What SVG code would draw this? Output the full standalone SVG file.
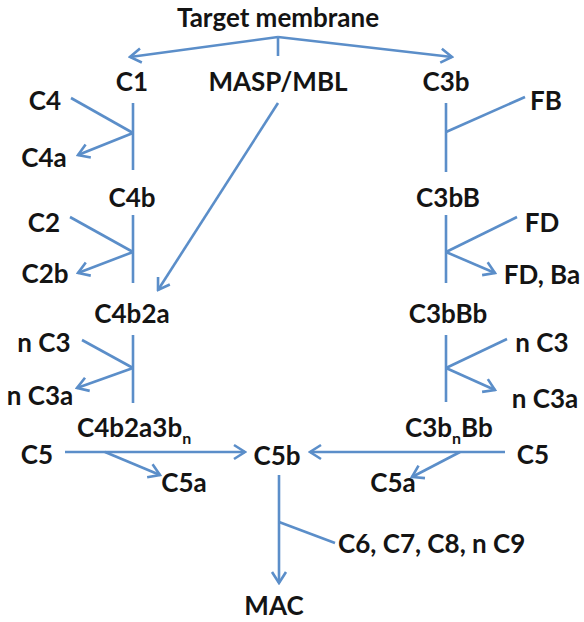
<svg xmlns="http://www.w3.org/2000/svg" width="584" height="622" viewBox="0 0 584 622">
  <style>
    .lbl { font-family: Lato, "Open Sans", "Liberation Sans", sans-serif; font-weight: bold; font-size: 26px; fill: #141414; }
    .mid { text-anchor: middle; }
    .sub { font-size: 16px; }
    .wire { fill: none; stroke: #5b8ec9; stroke-width: 2.6; stroke-linecap: butt; }
    .arr { marker-end: url(#head); }
  </style>
  <defs>
    <marker id="head" markerUnits="userSpaceOnUse" viewBox="-13 -9 15 18" markerWidth="15" markerHeight="18" refX="0" refY="0" orient="auto">
      <path d="M-11,-7 L0,0 L-11,7" fill="none" stroke="#5b8ec9" stroke-width="2.6" stroke-linejoin="miter"/>
    </marker>
  </defs>

  <rect width="584" height="622" fill="#ffffff"/>

  <!-- connectors -->
  <g id="connectors">
    <!-- membrane fan-out -->
    <path class="wire arr" d="M278,37 L130,57"/>
    <path class="wire arr" d="M278,37 L452,57"/>
    <path class="wire" d="M278,37 L278,56"/>

    <!-- classical pathway -->
    <path class="wire" d="M133,103 L133,170"/>
    <path class="wire" d="M71,98 L133,133"/>
    <path class="wire arr" d="M133,133 L78,155"/>

    <path class="wire" d="M133,215 L133,283"/>
    <path class="wire" d="M70,217 L133,252"/>
    <path class="wire arr" d="M133,252 L78,273"/>

    <!-- lectin pathway -->
    <path class="wire arr" d="M278,103 L158,290"/>

    <path class="wire" d="M133,335 L133,403"/>
    <path class="wire" d="M82,340 L133,368"/>
    <path class="wire arr" d="M133,368 L77,388"/>

    <path class="wire arr" d="M65,452 L245,452"/>
    <path class="wire arr" d="M105,452 L160,475"/>

    <!-- alternative pathway -->
    <path class="wire" d="M446,103 L446,172"/>
    <path class="wire" d="M525,97 L446,132"/>

    <path class="wire" d="M446,215 L446,283"/>
    <path class="wire" d="M517,217 L446,252"/>
    <path class="wire arr" d="M446,252 L495,273"/>

    <path class="wire" d="M446,335 L446,402"/>
    <path class="wire" d="M507,339 L446,368"/>
    <path class="wire arr" d="M446,368 L495,390"/>

    <path class="wire arr" d="M505,452 L310,452"/>
    <path class="wire arr" d="M460,452 L412,477"/>

    <!-- terminal pathway -->
    <path class="wire arr" d="M279,475 L279,583"/>
    <path class="wire" d="M279,522 L335,543"/>
  </g>

  <g id="target"><text class="lbl mid" x="278" y="27">Target membrane</text></g>

  <g id="c1"><text class="lbl mid" x="132" y="91">C1</text></g>
  <g id="masp"><text class="lbl mid" x="278" y="91">MASP/MBL</text></g>
  <g id="c3b"><text class="lbl mid" x="446" y="91">C3b</text></g>

  <g id="c4"><text class="lbl mid" x="45" y="110">C4</text></g>
  <g id="c4a"><text class="lbl mid" x="44" y="167">C4a</text></g>
  <g id="fb"><text class="lbl mid" x="546" y="110">FB</text></g>

  <g id="c4b"><text class="lbl mid" x="132" y="207">C4b</text></g>
  <g id="c3bb"><text class="lbl mid" x="448" y="207">C3bB</text></g>

  <g id="c2"><text class="lbl mid" x="44" y="232">C2</text></g>
  <g id="fd"><text class="lbl mid" x="542" y="232">FD</text></g>
  <g id="c2b"><text class="lbl mid" x="45" y="283">C2b</text></g>
  <g id="fdba"><text class="lbl mid" x="542" y="284">FD, Ba</text></g>

  <g id="c4b2a"><text class="lbl mid" x="132" y="323">C4b2a</text></g>
  <g id="c3bbb"><text class="lbl mid" x="448" y="323">C3bBb</text></g>

  <g id="nc3-left"><text class="lbl mid" x="44" y="352">n C3</text></g>
  <g id="nc3-right"><text class="lbl mid" x="542" y="352">n C3</text></g>
  <g id="nc3a-left"><text class="lbl mid" x="40" y="405">n C3a</text></g>
  <g id="nc3a-right"><text class="lbl mid" x="545" y="408">n C3a</text></g>

  <g id="c5-convertase-classical"><text class="lbl" x="77" y="437">C4b2a3b<tspan class="sub" dy="7">n</tspan></text></g>
  <g id="c5-convertase-alternative"><text class="lbl" x="405" y="437">C3b<tspan class="sub" dy="7">n</tspan><tspan dy="-7">Bb</tspan></text></g>

  <g id="c5-left"><text class="lbl mid" x="37" y="464">C5</text></g>
  <g id="c5-right"><text class="lbl mid" x="533" y="464">C5</text></g>
  <g id="c5b"><text class="lbl mid" x="277" y="465">C5b</text></g>
  <g id="c5a-left"><text class="lbl mid" x="184" y="492">C5a</text></g>
  <g id="c5a-right"><text class="lbl mid" x="393" y="492">C5a</text></g>

  <g id="late"><text class="lbl" x="338" y="553">C6, C7, C8, n C9</text></g>
  <g id="mac"><text class="lbl mid" x="274" y="615">MAC</text></g>
</svg>
